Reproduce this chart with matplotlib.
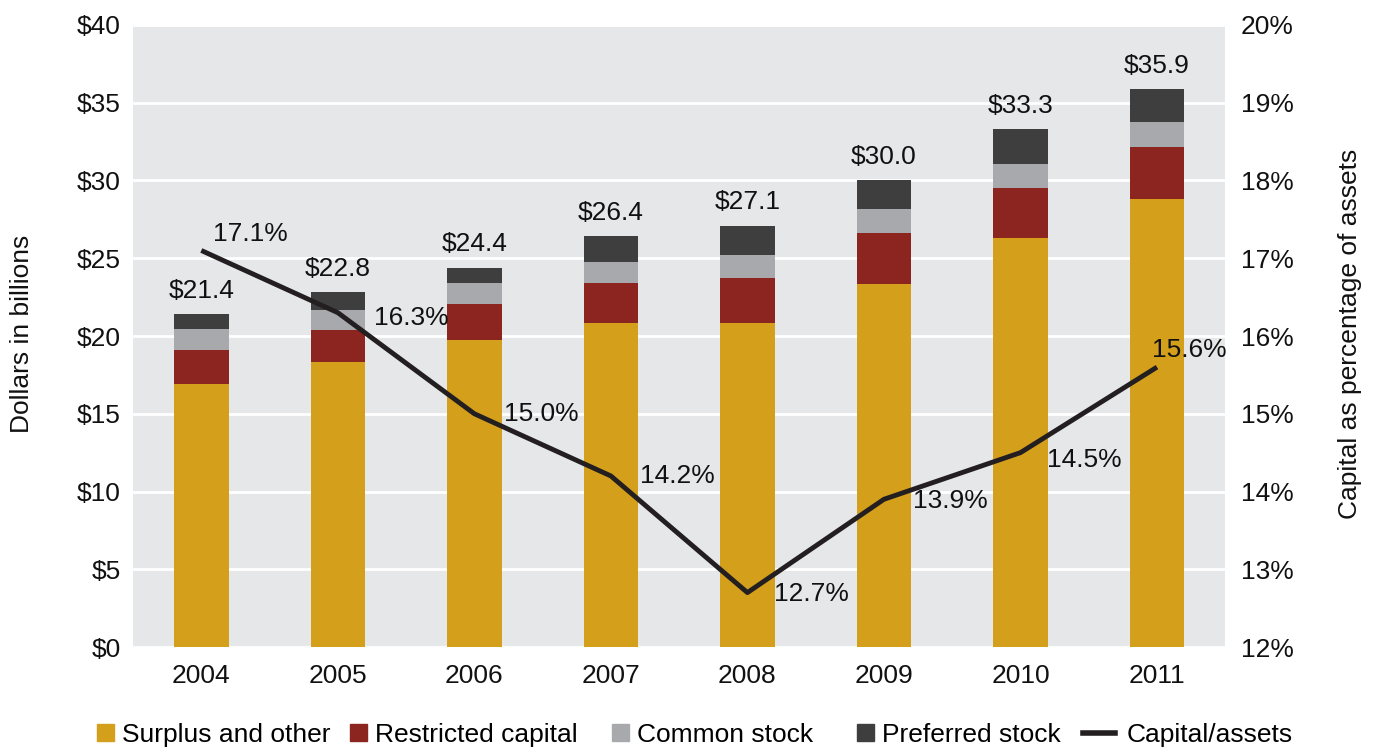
import matplotlib
matplotlib.use("Agg")
import matplotlib.pyplot as plt
import numpy as np
from matplotlib.lines import Line2D
from matplotlib.patches import Patch

plt.rcParams['font.family'] = ['Liberation Sans', 'DejaVu Sans']

years = ['2004', '2005', '2006', '2007', '2008', '2009', '2010', '2011']
surplus = [16.9, 18.3, 19.75, 20.85, 20.85, 23.35, 26.3, 28.8]
restricted = [2.2, 2.1, 2.3, 2.55, 2.9, 3.25, 3.2, 3.35]
common = [1.35, 1.3, 1.35, 1.35, 1.45, 1.55, 1.55, 1.6]
preferred = [0.95, 1.1, 1.0, 1.65, 1.9, 1.85, 2.25, 2.15]
totals = [21.4, 22.8, 24.4, 26.4, 27.1, 30.0, 33.3, 35.9]
ratio = [17.1, 16.3, 15.0, 14.2, 12.7, 13.9, 14.5, 15.6]
legend_labels = ['Surplus and other', 'Restricted capital', 'Common stock',
                 'Preferred stock', 'Capital/assets']

c_surplus = '#D4A01C'
c_restr = '#8C251F'
c_common = '#A8A9AC'
c_pref = '#3E3E3F'
c_line = '#231F20'
bg = '#E6E7E8'
txt = '#111111'
FS = 19

fig = plt.figure(figsize=(13.73, 7.48), dpi=100)
ax = fig.add_axes([0.0969, 0.135, 0.7955, 0.8316])
ax.set_facecolor(bg)
x = np.arange(len(years))
w = 0.4
b1 = np.array(surplus)
b2 = b1 + np.array(restricted)
b3 = b2 + np.array(common)
ax.bar(x, surplus, w, color=c_surplus, zorder=2)
ax.bar(x, restricted, w, bottom=b1, color=c_restr, zorder=2)
ax.bar(x, common, w, bottom=b2, color=c_common, zorder=2)
ax.bar(x, preferred, w, bottom=b3, color=c_pref, zorder=2)
for xi, t in zip(x, totals):
    ax.annotate(f'${t:.1f}', (xi, t), xytext=(0, 8), textcoords='offset points',
                ha='center', va='bottom', fontsize=FS, color=txt)

ax.set_xlim(-0.5, len(years) - 0.5)
ax.set_ylim(0, 40)
ax.set_yticks(np.arange(0, 41, 5))
ax.set_yticklabels([f'${v}' for v in range(0, 41, 5)])
ax.set_xticks(x)
ax.set_xticklabels(years)
ax.yaxis.grid(True, color='white', linewidth=2, zorder=1)
ax.set_axisbelow(True)
for s in ax.spines.values():
    s.set_visible(False)
ax.tick_params(length=0, labelsize=FS, colors=txt, pad=9)
ax.tick_params(axis='x', pad=12)

ax2 = ax.twinx()
ax2.set_ylim(12, 20)
ax2.set_yticks(np.arange(12, 21, 1))
ax2.set_yticklabels([f'{v}%' for v in range(12, 21)])
for s in ax2.spines.values():
    s.set_visible(False)
ax2.tick_params(length=0, labelsize=FS, colors=txt, pad=11)
ax2.plot(x, ratio, color=c_line, linewidth=3.5, zorder=5, solid_capstyle='butt')
offsets = [(35, 12), (53, -4), (48, 0), (48, 0), (46, -1), (48, -1.5), (46, -5), (23, 12)]
for xi, r, off in zip(x, ratio, offsets):
    ax2.annotate(f'{r:.1f}%', (xi, r), xytext=off, textcoords='offset points',
                 ha='center', va='center', fontsize=FS, color=txt)

fig.text(22 / 1373, 0.553, 'Dollars in billions', rotation=90, ha='center',
         va='center', fontsize=FS, color=txt)
fig.text(1350 / 1373, 0.553, 'Capital as percentage of assets', rotation=90,
         ha='center', va='center', fontsize=FS, color=txt)

handles = [Patch(color=c_surplus), Patch(color=c_restr), Patch(color=c_common),
           Patch(color=c_pref), Line2D([0], [0], color=c_line, linewidth=4)]
lefts = [97, 350, 612, 857, 1083]
for h, lab, lx in zip(handles, legend_labels, lefts):
    is_line = isinstance(h, Line2D)
    fig.legend([h], [lab], loc='center left', bbox_to_anchor=(lx / 1373, 1 - 735 / 748),
               frameon=False, fontsize=FS, borderpad=0, borderaxespad=0,
               handlelength=1.2 if is_line else 0.64, handleheight=0.6,
               handletextpad=0.45 if is_line else 0.3)
fig.savefig('out.png', dpi=100)
